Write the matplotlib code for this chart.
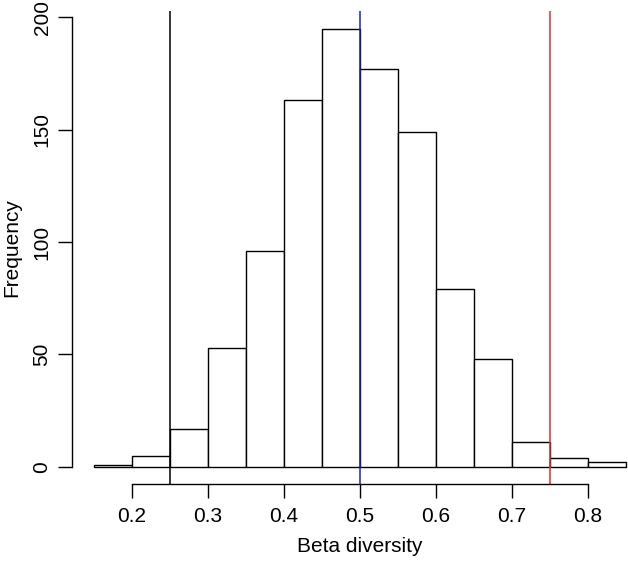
import matplotlib
matplotlib.use("Agg")
import matplotlib.pyplot as plt
import numpy as np

plt.rcParams['font.family'] = ['Liberation Sans', 'DejaVu Sans']

bin_edges = [0.15, 0.20, 0.25, 0.30, 0.35, 0.40, 0.45, 0.50, 0.55, 0.60, 0.65, 0.70, 0.75, 0.80, 0.85]
counts = [1, 5, 17, 53, 96, 163, 195, 177, 149, 79, 48, 11, 4, 2]
vlines = [0.25, 0.50, 0.75]
vline_colors = ['black', '#2020b0', '#e03030']
x_ticks = [0.2, 0.3, 0.4, 0.5, 0.6, 0.7, 0.8]
y_ticks = [0, 50, 100, 150, 200]

W, H = 628, 561
fig = plt.figure(figsize=(W / 100, H / 100), dpi=100)
left, right, top, bottom = 72.4, 647.0, 11.0, 484.4
ax = fig.add_axes([left / W, 1 - bottom / H, (right - left) / W, (bottom - top) / H])

edges = np.array(bin_edges)
ax.bar(edges[:-1], counts, width=np.diff(edges), align='edge',
       facecolor='white', edgecolor='black', linewidth=1.0)
for v, c in zip(vlines, vline_colors):
    ax.axvline(v, color=c, linewidth=1.1)

ax.set_xlim(0.122, 0.878)
ax.set_ylim(-7.8, 202.8)
for s in ['top', 'right']:
    ax.spines[s].set_visible(False)
ax.spines['bottom'].set_bounds(0.2, 0.8)
ax.spines['left'].set_bounds(0, 200)
ax.spines['bottom'].set_linewidth(1.0)
ax.spines['left'].set_linewidth(1.0)
ax.set_xticks(x_ticks)
ax.set_xticklabels([f"{t:.1f}" for t in x_ticks])
ax.set_yticks(y_ticks)
ax.set_yticklabels([str(t) for t in y_ticks], rotation=90, va='center')
ax.tick_params(axis='both', length=10, width=1.0, labelsize=15, direction='out')
ax.tick_params(axis='x', pad=6)
ax.tick_params(axis='y', pad=5)
ax.set_xlabel('Beta diversity', fontsize=15, labelpad=8)
ax.set_ylabel('Frequency', fontsize=15, labelpad=8)

fig.savefig('out.png', dpi=100)
